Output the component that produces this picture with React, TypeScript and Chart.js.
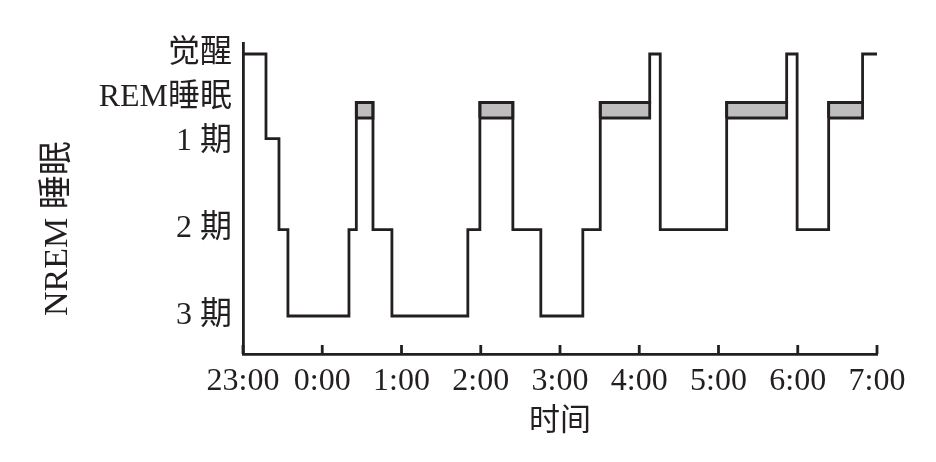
import React, { useEffect, useRef } from 'react';
import { Chart, registerables } from 'chart.js';

Chart.register(...registerables);

// ---- data ----
const xTickHours = [0, 1, 2, 3, 4, 5, 6, 7, 8];
const xTickLabels = ['23:00', '0:00', '1:00', '2:00', '3:00', '4:00', '5:00', '6:00', '7:00'];
const yTickValues = [0, 1, 2, 2.5, 3];
const yTickLabels = ['3 期', '2 期', '1 期', 'REM睡眠', '觉醒'];

// hours since 23:00 at which each stage begins
const stageTimes = [0, 0.29, 0.454, 0.567, 1.337, 1.43, 1.64, 1.879, 2.837, 2.989, 3.405, 3.758, 4.288, 4.508, 5.132, 5.265, 6.103, 6.86, 6.992, 7.39, 7.818, 8.0];
const stageNames = ['觉醒', '1期', '2期', '3期', '2期', 'REM', '2期', '3期', '2期', 'REM', '2期', '3期', '2期', 'REM', '觉醒', '2期', 'REM', '觉醒', '2期', 'REM', '觉醒', '觉醒'];
const stageLevel: Record<string, number> = { '觉醒': 3, 'REM': 2.445, '1期': 2.03, '2期': 0.99, '3期': 0 };

const remStarts = [1.43, 2.989, 4.508, 6.103, 7.39];
const remEnds = [1.64, 3.405, 5.132, 6.86, 7.818];
const remTop = 2.445;
const remBottom = 2.267;

const INK = '#231f20';
const GREY = '#bebebe';
const LW = 2.8;
const FAMILY = "'Liberation Serif', 'Noto Sans CJK SC', serif";

const decor = {
  id: 'decor',
  afterDraw(chart: any) {
    const ctx = chart.ctx;
    const xs = chart.scales.x;
    const ys = chart.scales.y;
    const yb = chart.chartArea.bottom;
    ctx.save();
    ctx.strokeStyle = INK;
    ctx.lineWidth = LW;
    xs.ticks.forEach((t: any) => {
      const px = xs.getPixelForValue(t.value);
      ctx.beginPath();
      ctx.moveTo(px, yb);
      ctx.lineTo(px, yb - 9);
      ctx.stroke();
    });
    ctx.fillStyle = INK;
    ctx.font = `34px ${FAMILY}`;
    ctx.translate(ys.left + 58, ys.getPixelForValue(1.0));
    ctx.rotate(-Math.PI / 2);
    ctx.textAlign = 'center';
    ctx.textBaseline = 'middle';
    ctx.fillText('NREM 睡眠', 0, 0);
    ctx.restore();
  },
};

export default function App() {
  const ref = useRef<HTMLCanvasElement | null>(null);

  useEffect(() => {
    document.body.style.margin = '0';
    const canvas = ref.current;
    if (!canvas) return;

    const mainData = stageTimes.map((t, i) => ({ x: t, y: stageLevel[stageNames[i]] }));
    const remSets = remStarts.map((s, i) => ({
      data: [
        { x: s, y: remBottom },
        { x: s, y: remTop },
        { x: remEnds[i], y: remTop },
        { x: remEnds[i], y: remBottom },
        { x: s, y: remBottom },
      ],
      borderColor: INK,
      borderWidth: LW,
      backgroundColor: GREY,
      fill: 'shape',
      pointRadius: 0,
      tension: 0,
      clip: false as any,
      borderJoinStyle: 'miter',
    }));

    const chart = new Chart(canvas, {
      type: 'line',
      data: {
        datasets: [
          {
            data: mainData,
            borderColor: INK,
            borderWidth: LW,
            stepped: 'before',
            pointRadius: 0,
            fill: false,
            clip: false as any,
            borderJoinStyle: 'miter',
            borderCapStyle: 'butt',
          } as any,
          ...(remSets as any[]),
        ],
      },
      options: {
        animation: false,
        responsive: false,
        events: [],
        layout: { padding: { top: 43, right: 59, left: 0, bottom: 0 } },
        plugins: { legend: { display: false }, tooltip: { enabled: false } },
        scales: {
          x: {
            type: 'linear',
            min: 0,
            max: 8,
            afterBuildTicks: (s: any) => {
              s.ticks = xTickHours.map((v) => ({ value: v }));
            },
            afterFit: (s: any) => {
              s.height = 108;
            },
            ticks: {
              autoSkip: false,
              maxRotation: 0,
              color: INK,
              padding: 8,
              font: { family: FAMILY, size: 32 },
              callback: (v: any) => xTickLabels[xTickHours.indexOf(Number(v))],
            },
            grid: { display: true, drawOnChartArea: false, drawTicks: false },
            border: { display: true, color: INK, width: LW },
            title: {
              display: true,
              text: '时间',
              color: INK,
              font: { family: FAMILY, size: 31 },
              padding: { top: 0, bottom: 22 },
            },
          },
          y: {
            type: 'linear',
            min: -0.435,
            max: 3.126,
            afterBuildTicks: (s: any) => {
              s.ticks = yTickValues.map((v) => ({ value: v }));
            },
            afterFit: (s: any) => {
              s.width = 243;
            },
            ticks: {
              autoSkip: false,
              color: INK,
              padding: 11,
              font: { family: FAMILY, size: 32 },
              callback: (v: any) => yTickLabels[yTickValues.indexOf(Number(v))],
            },
            grid: { display: true, drawOnChartArea: false, drawTicks: false },
            border: { display: true, color: INK, width: LW },
          },
        },
      } as any,
      plugins: [decor],
    });

    return () => chart.destroy();
  }, []);

  return (
    <div style={{ width: 936, height: 462, background: '#fff' }}>
      <canvas ref={ref} width={936} height={462} style={{ display: 'block' }} />
    </div>
  );
}
